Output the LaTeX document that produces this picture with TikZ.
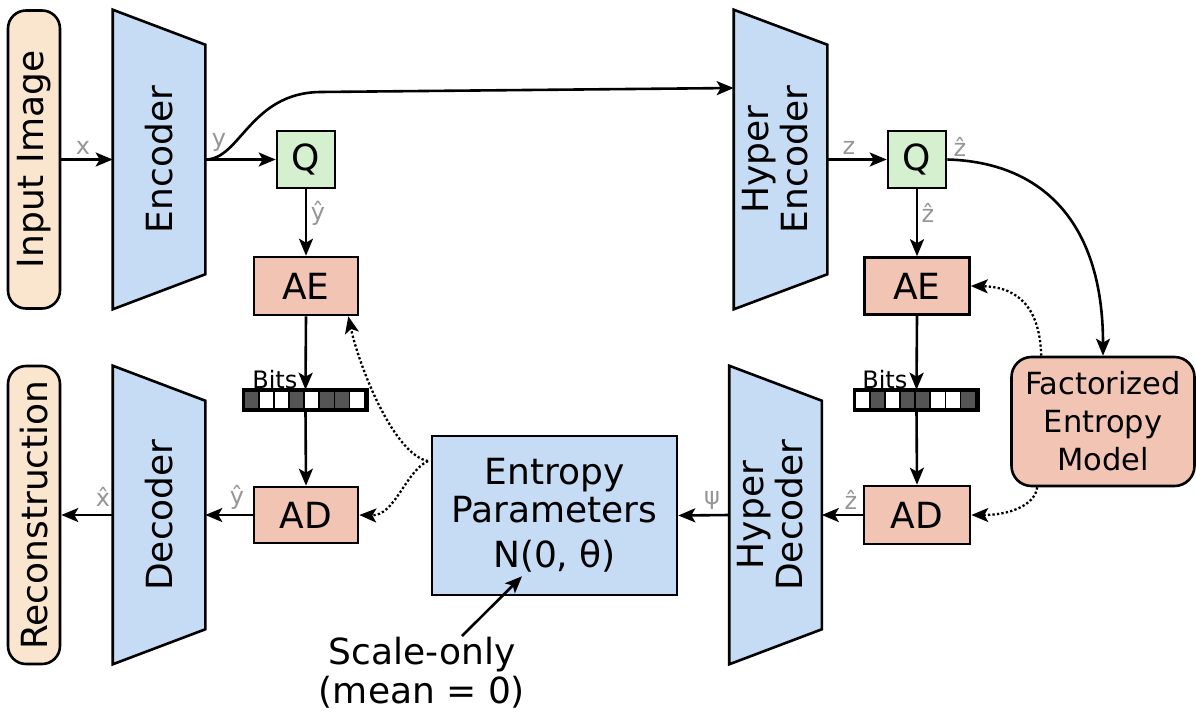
\documentclass[tikz,border=0pt]{standalone}
\usepackage{fontspec}
\setmainfont{DejaVu Sans}
\usetikzlibrary{arrows.meta,calc,backgrounds}
\definecolor{bluef}{RGB}{198,219,244}
\definecolor{peach}{RGB}{250,230,206}
\definecolor{salmon}{RGB}{242,196,180}
\definecolor{greenf}{RGB}{212,240,206}
\definecolor{darkbit}{RGB}{85,85,85}
\definecolor{lbl}{RGB}{150,150,150}
\newcommand\trapez[1]{\draw[trap] (#1.north west) -- ($(#1.north east)+(0,35)$) -- ($(#1.south east)+(0,-35)$) -- (#1.south west) -- cycle;}
\begin{document}
\begin{tikzpicture}[x=1pt,y=-1pt,line width=2.6pt,
  big/.style={font=\fontsize{36}{42}\selectfont},
  mid/.style={font=\fontsize{30.5}{38}\selectfont},
  lab/.style={text=lbl,font=\fontsize{24}{28}\selectfont,inner sep=0pt},
  arr/.style={line width=2.6pt,-{Stealth[length=17pt,width=14pt,inset=4pt]}},
  dotarr/.style={arr,line width=2.3pt,dash pattern=on 2.3pt off 2.2pt},
  boxn/.style={draw,line width=2.6pt,inner sep=0pt,big},
  trapn/.style={inner sep=0pt,minimum width=90pt,big},
  trap/.style={draw,line width=2.6pt,fill=bluef},
  bit/.style={draw,line width=1.8pt,minimum width=15.125pt,minimum height=18pt,inner sep=0pt},
  bitsl/.style={anchor=base west,font=\fontsize{24}{28}\selectfont,inner sep=0pt},
  roundbox/.style={draw,line width=2.6pt,rounded corners=18pt,inner sep=0pt,big,fill=peach,minimum width=52pt,minimum height=298pt}
]
\useasboundingbox (0,0) rectangle (1196,715);

% side boxes
\node[roundbox] (in) at (34,159.5) {\rotatebox{90}{Input Image}};
\node[roundbox] (rec) at (34,515) {\rotatebox{90}{Reconstruction}};

% trapezoids
\node[trapn,minimum height=297pt] (enc) at (159,159.5) {\rotatebox{90}{Encoder}};
\node[trapn,minimum height=296pt] (dec) at (159,515) {\rotatebox{90}{Decoder}};
\node[trapn,minimum height=297pt,minimum width=91pt] (henc) at (780.5,159.5) {\rotatebox{90}{\def\arraystretch{0.93}\begin{tabular}{@{}c@{}}Hyper\\Encoder\end{tabular}}};
\node[trapn,minimum height=296pt] (hdec) at (775.5,515) {\rotatebox{90}{\def\arraystretch{0.93}\begin{tabular}{@{}c@{}}Hyper\\Decoder\end{tabular}}};
\begin{scope}[on background layer]
\trapez{enc}
\trapez{dec}
\trapez{henc}
\trapez{hdec}
\end{scope}

% boxes
\node[boxn,fill=greenf,minimum width=58pt,minimum height=57pt] (q1) at (306,159.5) {Q};
\node[boxn,fill=salmon,minimum width=104pt,minimum height=58pt] (ae1) at (306,286) {AE};
\node[boxn,fill=salmon,minimum width=104pt,minimum height=56pt] (ad1) at (306,515) {AD};
\node[boxn,fill=greenf,minimum width=58pt,minimum height=57pt] (q2) at (917,159.5) {Q};
\node[boxn,fill=salmon,minimum width=105pt,minimum height=57pt] (ae2) at (917,286) {AE};
\node[boxn,fill=salmon,minimum width=106pt,minimum height=58pt] (ad2) at (917,515) {AD};
\node[draw,line width=2.6pt,fill=bluef,inner sep=0pt,minimum width=245pt,minimum height=159pt,align=center,font=\fontsize{36}{38}\selectfont] (ep) at (554.5,515.5) {Entropy\\Parameters\\[7pt]N(0, θ)};
\node[draw,line width=2.6pt,fill=salmon,rounded corners=20pt,inner sep=0pt,minimum width=183pt,minimum height=129pt,align=center,mid] (fem) at (1103,421.5) {Factorized\\Entropy\\Model};
\node[align=center,inner sep=0pt,font=\fontsize{36}{39}\selectfont] (so) at (422,673) {Scale-only\\(mean = 0)};

% bits bars
\node[inner sep=0pt,minimum width=121pt,minimum height=18pt] (bits1) at (305.5,400) {};
\foreach \f [count=\i] in {darkbit,white,white,darkbit,white,darkbit,darkbit,white}
  \node[bit,fill=\f] (b1\i) at ($(bits1.west)+(\i*15.125-7.5625,0)$) {};
\draw (bits1.north west) rectangle (bits1.south east);
\node[bitsl] (bl1) at (251,388) {Bits};

\node[inner sep=0pt,minimum width=121pt,minimum height=18pt] (bits2) at (916.5,400) {};
\foreach \f [count=\i] in {white,darkbit,white,darkbit,darkbit,white,white,darkbit}
  \node[bit,fill=\f] (b2\i) at ($(bits2.west)+(\i*15.125-7.5625,0)$) {};
\draw (bits2.north west) rectangle (bits2.south east);
\node[bitsl] (bl2) at (861,388) {Bits};

% solid connectors
\draw[arr] (in.east) -- (enc.west);
\draw[arr] (enc.east) -- (q1.west);
\draw[arr] (enc.east) .. controls (240,160) and (250,93) .. (320,92) -- ($(henc.west)+(0,-71.5)$);
\draw[arr] (q1.south) -- (ae1.north);
\draw[arr] (ae1.south) -- (bits1.north);
\draw[arr] (bits1.south) -- (ad1.north);
\draw[arr] (ad1.west) -- (dec.east);
\draw[arr] (dec.west) -- (rec.east);
\draw[arr] (hdec.west) -- (ep.east);
\draw[arr] (henc.east) -- (q2.west);
\draw[arr] (q2.south) -- (ae2.north);
\draw[arr] (ae2.south) -- (bits2.north);
\draw[arr] (bits2.south) -- (ad2.north);
\draw[arr] (ad2.west) -- (hdec.east);
\draw[arr] (q2.east) .. controls (1040,162) and (1103,220) .. (fem.north);
\coordinate (soarr) at (462,636);
\draw[arr] (soarr) -- ($(ep.south)+(-32.5,-20)$);

% dotted connectors
\coordinate (epj) at (428,461);
\draw[dotarr] (epj) .. controls (395,455) and (360,370) .. ($(ae1.south east)+(-11,0)$);
\draw[dotarr] (epj) .. controls (405,472) and (395,516) .. (ad1.east);
\draw[dotarr] ($(fem.north west)+(31,0)$) .. controls (1040,310) and (1020,287) .. (ae2.east);
\draw[dotarr] ($(fem.south west)+(27,0)$) .. controls (1035,505) and (1010,515) .. (ad2.east);

% labels
\node[lab] (lx) at (83,148) {x};
\node[lab] (ly) at (219,142) {y};
\node[lab] (lyh) at (318,213) {\^{y}};
\node[lab] (lxh) at (103,497) {\^{x}};
\node[lab] (lyh2) at (237,497) {\^{y}};
\node[lab] (lpsi) at (712,500) {ψ};
\node[lab] (lz) at (849,148) {z};
\node[lab] (lzh) at (960,147) {ẑ};
\node[lab] (lzh2) at (928,213) {ẑ};
\node[lab] (lzh3) at (851,500) {ẑ};
\end{tikzpicture}
\end{document}
